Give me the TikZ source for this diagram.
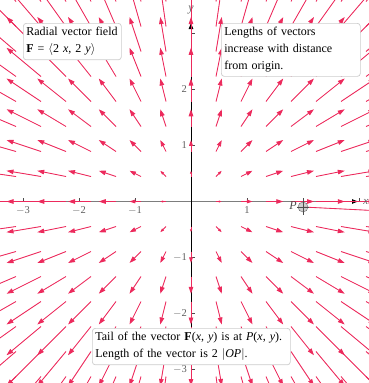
\documentclass[tikz,border=0pt]{standalone}
\usepackage{fontspec}
\setmainfont{Liberation Serif}
\usetikzlibrary{arrows.meta}
\definecolor{vecred}{RGB}{236,42,92}
\definecolor{axgray}{RGB}{125,125,125}
\definecolor{lblgray}{RGB}{95,95,95}
\begin{document}
\begin{tikzpicture}[x=1pt,y=-1pt,
  vec/.style={draw=vecred, fill=vecred, line width=0.85pt},
  infobox/.style={draw=gray!40, fill=white, rounded corners=3pt, line width=0.7pt,
    inner ysep=4pt, inner xsep=3pt, anchor=north west, align=left, font=\fontsize{12}{17}\selectfont},
  ticklbl/.style={text=lblgray, font=\fontsize{10.5}{12}\selectfont, inner sep=1pt},
  tickmark/.style={draw=black!70, line width=0.6pt}]
\useasboundingbox (0,0) rectangle (369,383);
\begin{scope}
\clip (0,0) rectangle (369,383);
% axes
\coordinate (xs) at (13,201.5);
\coordinate (xe) at (358,201.5);
\coordinate (ys) at (191,383);
\coordinate (ye) at (191,23);
\draw[axgray, line width=0.9pt, -{Triangle[length=6pt,width=4.5pt,color=black]}] (xs) -- (xe);
\draw[black, line width=0.9pt, -{Triangle[length=6pt,width=4.5pt]}] (ys) -- (ye);
% ticks
\foreach \n in {-3,-2,-1,1,2,3}{
  \draw[tickmark] (191+56*\n,201.5) -- ++(0,-4);
  \draw[tickmark] (191,201.5-56*\n) -- ++(4,0);
}
\foreach \n/\t in {-3/{$-$3},-2/{$-$2},-1/{$-$1},1/1}{
  \node[ticklbl, anchor=north] (xl\n) at (191+56*\n,205) {\t};
}
\foreach \n/\t in {2/2,1/1,-1/{$-$1},-2/{$-$2},-3/{$-$3}}{
  \node[ticklbl, anchor=east] (yl\n) at (188,201.5-56*\n) {\t};
}
\node[ticklbl, font=\fontsize{12}{12}\itshape] (ylab) at (191,10) {y};
% vector field
\foreach \i in {-8,...,8}{
  \foreach \j in {-8,...,8}{
    \pgfmathsetmacro\len{0.23*25*sqrt((\i)*(\i)+(\j)*(\j))}
    \ifdim\len pt>0.5pt
      \pgfmathsetmacro\hl{min(7,0.5*\len)}
      \pgfmathsetmacro\hw{0.65*\hl}
      \draw[vec,-{Triangle[length=\hl pt,width=\hw pt]}]
        (191+25*\i,201.5-25*\j) -- ++(0.23*25*\i,-0.23*25*\j);
    \fi
  }
}
% point P and its vector
\coordinate (pc) at (303,207);
\coordinate (pv) at (527,218.2);
\draw[vec] (pc) -- (pv);
\node[circle, draw=black!60, fill=gray!55, fill opacity=0.7, minimum size=10pt, inner sep=0pt] (pm) at (pc) {};
\draw[black!70, line width=0.6pt] (303,199) -- (303,215) (297,207) -- (309,207);
\node[text=black!70, font=\fontsize{12}{12}\itshape, anchor=east, inner sep=1pt] (plab) at (298,206) {P};
\end{scope}
\node[ticklbl, font=\fontsize{11}{11}\itshape, anchor=east, inner sep=0.5pt] (xlab) at (369,201.5) {x};
% info boxes
\node[infobox, text width=92pt] (b1) at (23,23) {Radial vector field\\\textbf{F} = $\langle$2 \textit{x}, 2 \textit{y}$\rangle$};
\node[infobox, text width=133pt] (b2) at (221,23) {Lengths of vectors\\increase with distance\\from origin.};
\node[infobox, text width=192pt] (b3) at (92,328) {Tail of the vector \textbf{F}(\textit{x}, \textit{y}) is at \textit{P}(\textit{x}, \textit{y}).\\Length of the vector is 2 $|$\textit{OP}$|$.};
\end{tikzpicture}
\end{document}
